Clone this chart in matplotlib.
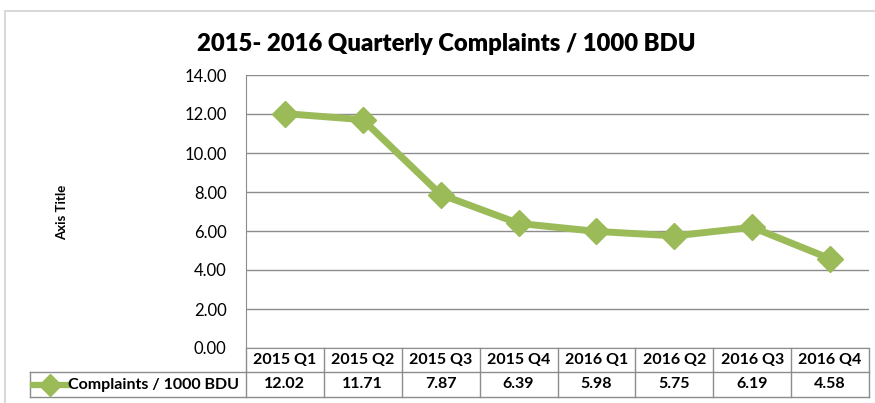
import matplotlib
matplotlib.use("Agg")
import matplotlib.pyplot as plt
from matplotlib.lines import Line2D
from matplotlib.patches import Rectangle
from matplotlib.transforms import blended_transform_factory

# chart data
quarters = ["2015 Q1", "2015 Q2", "2015 Q3", "2015 Q4",
            "2016 Q1", "2016 Q2", "2016 Q3", "2016 Q4"]
complaints = [12.02, 11.71, 7.87, 6.39, 5.98, 5.75, 6.19, 4.58]
series_name = "Complaints / 1000 BDU"
title = "2015- 2016 Quarterly Complaints / 1000 BDU"
y_ticks = [0, 2, 4, 6, 8, 10, 12, 14]

green = "#9BBB59"
grid_col = "#8C8C8C"
plt.rcParams['font.family'] = ['Lato', 'DejaVu Sans']

W, H = 875, 403
fig = plt.figure(figsize=(W / 100, H / 100), dpi=100)


def fx(px):
    return px / W


def fy(py):
    return 1 - py / H


# outer chart border (only top/left visible in the crop)
fig.add_artist(Rectangle((fx(5), fy(420)), fx(900), fy(11) - fy(420),
                         transform=fig.transFigure, fill=False,
                         edgecolor="#D9D9D9", linewidth=1.5))

ax = fig.add_axes([fx(246), fy(348), fx(869) - fx(246), fy(75) - fy(348)])
x = list(range(len(quarters)))
ax.plot(x, complaints, color=green, linewidth=5, marker="D",
        markersize=13, markerfacecolor=green, markeredgecolor=green,
        zorder=3, solid_joinstyle="round")

ax.set_xlim(-0.5, len(quarters) - 0.5)
ax.set_ylim(0, 14)
ax.set_yticks(y_ticks)
ax.set_yticklabels([f"{v:.2f}" for v in y_ticks], fontsize=12)
ax.set_xticks([])
ax.yaxis.grid(True, color=grid_col, linewidth=1)
ax.set_axisbelow(True)
ax.tick_params(axis="y", length=0, pad=14)
for s in ["top", "right"]:
    ax.spines[s].set_visible(False)
ax.spines["left"].set_color(grid_col)
ax.spines["bottom"].set_color(grid_col)

fig.text(fx(446), fy(44), title, ha="center", va="center",
         fontsize=17.2, fontweight="heavy")
fig.text(fx(62), fy(212), "Axis Title", rotation=90, ha="center",
         va="center", fontsize=9.5, fontweight="bold")

# data table under the plot
tr = blended_transform_factory(ax.transData, fig.transFigure)
row1_top, row1_bot, row2_bot = 348, 372, 397
line_kw = dict(color=grid_col, linewidth=1)

for i in range(len(quarters) + 1):
    xb = i - 0.5
    fig.add_artist(Line2D([xb, xb], [fy(row1_top), fy(row2_bot)],
                          transform=tr, **line_kw))
fig.add_artist(Line2D([fx(30), fx(869)], [fy(row1_bot), fy(row1_bot)],
                      transform=fig.transFigure, **line_kw))
fig.add_artist(Line2D([fx(30), fx(869)], [fy(row2_bot), fy(row2_bot)],
                      transform=fig.transFigure, **line_kw))
fig.add_artist(Line2D([fx(30), fx(30)], [fy(row1_bot), fy(row2_bot)],
                      transform=fig.transFigure, **line_kw))

mid1 = fy((row1_top + row1_bot) / 2)
mid2 = fy((row1_bot + row2_bot) / 2)
for i, (q, v) in enumerate(zip(quarters, complaints)):
    fig.text(i, mid1, q, transform=tr, ha="center", va="center",
             fontsize=11.5, fontweight="bold")
    fig.text(i, mid2, f"{v:.2f}", transform=tr, ha="center", va="center",
             fontsize=11.5, fontweight="bold")

# legend key inside the table
fig.add_artist(Line2D([fx(33), fx(50), fx(68)], [mid2, mid2, mid2],
                      transform=fig.transFigure, color=green, linewidth=4.5,
                      marker="D", markersize=11, markevery=[1],
                      markerfacecolor=green, markeredgecolor=green))
fig.text(fx(68), mid2, series_name, ha="left", va="center", fontsize=11.5,
         fontweight="bold")

fig.savefig("out.png", dpi=100)
